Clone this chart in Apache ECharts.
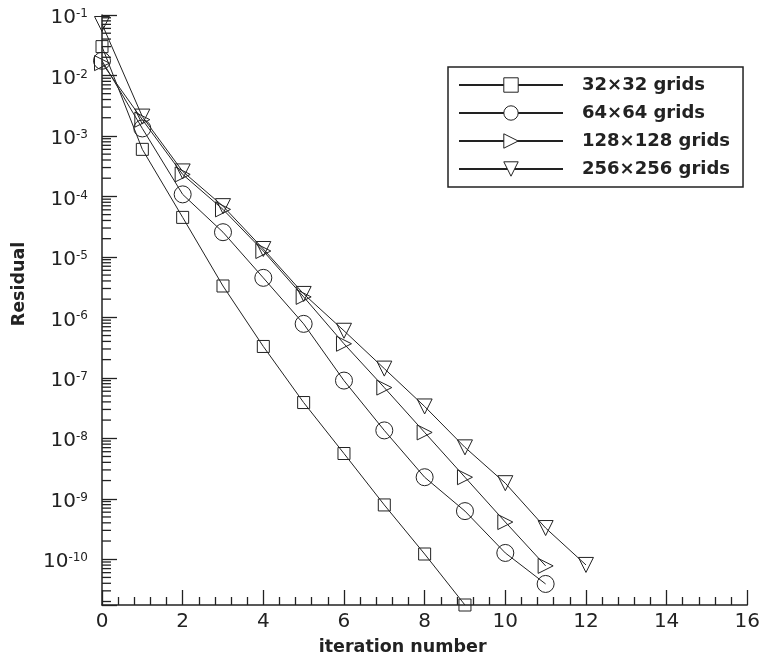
<!DOCTYPE html>
<html>
<head>
<meta charset="utf-8">
<script src="https://cdn.jsdelivr.net/npm/echarts@6/dist/echarts.min.js"></script>
<style>
  html, body { margin: 0; padding: 0; background: #fff; }
  #chart { width: 763px; height: 661px; }
</style>
</head>
<body>
<div id="chart"></div>
<script>
// Convergence history: residual per multigrid iteration for four grid sizes
const iterations = [0, 1, 2, 3, 4, 5, 6, 7, 8, 9, 10, 11, 12];
const seriesNames = ['32\u00d732 grids', '64\u00d764 grids', '128\u00d7128 grids', '256\u00d7256 grids'];

const res32 = [3.0e-2, 6.0e-4, 4.5e-5, 3.3e-6, 3.3e-7, 3.9e-8, 5.6e-9, 7.9e-10, 1.22e-10, 1.75e-11];
const res64 = [1.75e-2, 1.33e-3, 1.08e-4, 2.56e-5, 4.5e-6, 7.8e-7, 9.0e-8, 1.35e-8, 2.27e-9, 6.25e-10, 1.27e-10, 3.9e-11];
const res128 = [1.6e-2, 1.86e-3, 2.31e-4, 6.1e-5, 1.25e-5, 2.18e-6, 3.66e-7, 6.9e-8, 1.25e-8, 2.27e-9, 4.12e-10, 7.76e-11];
const res256 = [7.1e-2, 2.09e-3, 2.59e-4, 6.9e-5, 1.35e-5, 2.44e-6, 6.0e-7, 1.42e-7, 3.36e-8, 7.08e-9, 1.81e-9, 3.28e-10, 8.05e-11];

// Axis ranges
const xMin = 0, xMax = 16, xStep = 2;
const yMin = 1.75e-11, yMax = 1e-1;
const yDecades = [-11, -10, -9, -8, -7, -6, -5, -4, -3, -2];
const minorMultipliers = [2, 3, 4, 5, 6, 7, 8, 9];

const ink = '#222';
const font = 'DejaVu Sans';

function pairs(values) {
  return values.map((v, i) => [iterations[i], v]);
}

// Log-axis minor tick positions (2..9 within each decade)
const minorTickValues = [];
yDecades.forEach(d => {
  minorMultipliers.forEach(m => {
    const v = m * Math.pow(10, d);
    if (v > yMin && v < yMax) minorTickValues.push([xMin, v]);
  });
});

const markerStyle = { color: 'rgba(0,0,0,0)', borderColor: ink, borderWidth: 1 };

function lineSeries(name, values, symbol, size, rotate) {
  return {
    name: name,
    type: 'line',
    data: pairs(values),
    symbol: symbol,
    symbolSize: size,
    symbolRotate: rotate,
    showAllSymbol: true,
    clip: false,
    lineStyle: { color: ink, width: 1 },
    itemStyle: markerStyle,
    emphasis: { disabled: true },
    z: 3
  };
}

const chart = echarts.init(document.getElementById('chart'), null, { renderer: 'canvas' });

chart.setOption({
  animation: false,
  backgroundColor: '#fff',
  grid: { left: 102, right: 11, top: 15, bottom: 54, containLabel: false },
  legend: {
    data: seriesNames,
    orient: 'vertical',
    left: 448,
    top: 67,
    padding: [9, 13, 9, 10],
    itemWidth: 104,
    itemHeight: 18,
    itemGap: 10,
    borderColor: ink,
    borderWidth: 1.5,
    backgroundColor: '#fff',
    selectedMode: false,
    itemStyle: { color: '#fff', borderColor: ink, borderWidth: 1 },
    textStyle: {
      fontFamily: font,
      fontWeight: 'bold',
      fontSize: 18,
      color: ink,
      padding: [0, 0, 0, 14]
    }
  },
  xAxis: {
    type: 'value',
    min: xMin,
    max: xMax,
    interval: xStep,
    name: 'iteration number',
    nameLocation: 'middle',
    nameGap: 33,
    nameTextStyle: {
      fontFamily: font, fontWeight: 'bold', fontSize: 17.5, color: ink,
      padding: [0, 44, 0, 0]
    },
    axisLine: { show: true, onZero: false, lineStyle: { color: ink, width: 1.5 } },
    axisTick: { show: true, inside: true, length: 15, lineStyle: { color: ink, width: 1.3 } },
    minorTick: { show: true, splitNumber: 5, length: 8, lineStyle: { color: ink, width: 1.3 } },
    splitLine: { show: false },
    axisLabel: { fontFamily: font, fontSize: 20, color: ink, margin: 7 }
  },
  yAxis: {
    type: 'log',
    logBase: 10,
    min: yMin,
    max: yMax,
    splitNumber: 10,
    name: 'Residual',
    nameLocation: 'middle',
    nameGap: 74,
    nameTextStyle: {
      fontFamily: font, fontWeight: 'bold', fontSize: 17.5, color: ink,
      padding: [0, 0, 0, 52]
    },
    axisLine: { show: true, onZero: false, lineStyle: { color: ink, width: 1.5 } },
    axisTick: { show: true, inside: true, length: 15, lineStyle: { color: ink, width: 1.3 } },
    splitLine: { show: false },
    axisLabel: {
      margin: 14,
      padding: [6, 0, 0, 0],
      formatter: function (value) {
        const e = Math.log10(value);
        const r = Math.round(e);
        if (Math.abs(e - r) > 1e-6) return '';
        return '{b|10}{s|' + r + '}';
      },
      rich: {
        b: { fontFamily: font, fontSize: 20, color: ink },
        s: { fontFamily: font, fontSize: 12, color: ink, verticalAlign: 'top' }
      }
    }
  },
  series: [
    lineSeries(seriesNames[0], res32, 'rect', 12, 0),
    lineSeries(seriesNames[1], res64, 'circle', 17, 0),
    lineSeries(seriesNames[2], res128, 'triangle', 15, -90),
    lineSeries(seriesNames[3], res256, 'triangle', 15, 180),
    {
      // minor ticks along the logarithmic residual axis
      type: 'custom',
      silent: true,
      clip: false,
      data: minorTickValues,
      encode: { x: 0, y: 1 },
      renderItem: function (params, api) {
        const p = api.coord([api.value(0), api.value(1)]);
        return {
          type: 'line',
          shape: { x1: p[0], y1: p[1], x2: p[0] + 9, y2: p[1] },
          style: { stroke: ink, lineWidth: 1.3 }
        };
      },
      z: 2
    }
  ]
});
</script>
</body>
</html>
